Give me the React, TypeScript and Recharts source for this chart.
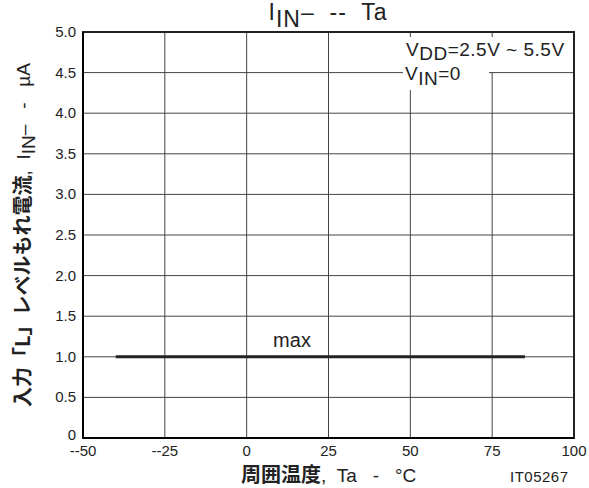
import React from "react";
import {
  LineChart,
  Line,
  XAxis,
  YAxis,
  CartesianGrid,
  ReferenceArea,
} from "recharts";

// ambient temperature (°C) and max input leakage current (µA)
const temps = [-40, 85];
const maxLeak = [1.0, 1.0];

const xTicks = [-50, -25, 0, 25, 50, 75, 100];
const yTicks = [0, 0.5, 1.0, 1.5, 2.0, 2.5, 3.0, 3.5, 4.0, 4.5, 5.0];

const data = temps.map((t, i) => ({ t, max: maxLeak[i] }));

const font = "'Liberation Sans', Arial, sans-serif";
const jpFont = "'Noto Sans CJK JP', 'Liberation Sans', sans-serif";
const ink = "#222";

const fmtX = (v: number) => (v < 0 ? "--" + Math.abs(v) : String(v));
const fmtY = (v: number) => (v === 0 ? "0" : v.toFixed(1));

const XTick = (p: any) => (
  <text
    x={p.x}
    y={p.y}
    dy={18}
    textAnchor="middle"
    fontSize={15}
    fontFamily={font}
    fill={ink}
  >
    {fmtX(p.payload.value)}
  </text>
);

const YTick = (p: any) => (
  <text
    x={p.x - 7}
    y={p.y}
    dy={p.payload.value === 0 ? 2 : 5}
    textAnchor="end"
    fontSize={15}
    fontFamily={font}
    fill={ink}
  >
    {fmtY(p.payload.value)}
  </text>
);

const pre = { whiteSpace: "pre" as const };

export default function App() {
  return (
    <div
      style={{
        position: "absolute",
        left: 0,
        top: 0,
        width: 589,
        height: 488,
        background: "#fff",
      }}
    >
      <LineChart
        width={589}
        height={488}
        data={data}
        margin={{ top: 32, right: 15, left: 0, bottom: 0 }}
      >
        <CartesianGrid stroke="#444" strokeWidth={1} />
        <XAxis
          dataKey="t"
          type="number"
          domain={[-50, 100]}
          ticks={xTicks}
          height={50}
          tickLine={false}
          tickSize={0}
          tickMargin={0}
          axisLine={{ stroke: "#000", strokeWidth: 2 }}
          tick={XTick}
          interval={0}
        />
        <YAxis
          type="number"
          domain={[0, 5]}
          ticks={yTicks}
          width={83}
          tickLine={false}
          tickSize={0}
          tickMargin={0}
          axisLine={{ stroke: "#000", strokeWidth: 2 }}
          tick={YTick}
          interval={0}
        />
        <ReferenceArea
          x1={-50}
          x2={100}
          y1={0}
          y2={5}
          fill="none"
          stroke={ink}
          strokeWidth={2}
          ifOverflow="visible"
        />
        <Line
          dataKey="max"
          stroke={ink}
          strokeWidth={3}
          dot={false}
          isAnimationActive={false}
        />
      </LineChart>
      <svg
        width={589}
        height={488}
        style={{ position: "absolute", left: 0, top: 0, pointerEvents: "none" }}
      >
        {/* title */}
        <text
          x={328}
          y={20}
          textAnchor="middle"
          fontSize={23}
          letterSpacing={1}
          fontFamily={font}
          fill={ink}
          xmlSpace="preserve"
          style={pre}
        >
          I<tspan dy={7}>IN</tspan>
          <tspan dy={-7}>{"\u2013  --  Ta"}</tspan>
        </text>

        {/* condition note, white box hides the grid behind it */}
        <rect x={403} y={37} width={167} height={35} fill="#fff" />
        <rect x={403} y={70} width={86} height={20} fill="#fff" />
        <g fontFamily={font} fill={ink} fontSize={19} letterSpacing={0.5}>
          <text x={406} y={56}>
            V<tspan dy={3.5}>DD</tspan>
            <tspan dy={-3.5}>=2.5V ~ 5.5V</tspan>
          </text>
          <text x={405} y={80}>
            V<tspan dy={5}>IN</tspan>
            <tspan dy={-5}>=0</tspan>
          </text>
        </g>

        <text
          x={292}
          y={347}
          fontSize={20}
          fontFamily={font}
          fill={ink}
          textAnchor="middle"
        >
          max
        </text>

        {/* y axis title */}
        <text
          transform="translate(30 235) rotate(-90)"
          textAnchor="middle"
          fontSize={19}
          fontFamily={font}
          fill={ink}
          xmlSpace="preserve"
          style={pre}
        >
          <tspan fontFamily={jpFont} fontWeight="bold" fontSize={20}>
            入力「L」レベルもれ電流
          </tspan>
          <tspan>{",  I"}</tspan>
          <tspan dy={5}>IN</tspan>
          <tspan dy={-5}>{"\u2013   -   \u00b5A"}</tspan>
        </text>

        {/* x axis title */}
        <text
          x={241}
          y={482}
          fontSize={19}
          fontFamily={font}
          fill={ink}
          xmlSpace="preserve"
          style={pre}
        >
          <tspan fontFamily={jpFont} fontWeight="bold" fontSize={20}>
            周囲温度
          </tspan>
          <tspan>{",  Ta   -   °C"}</tspan>
        </text>

        <text x={510} y={482} fontSize={15} letterSpacing={0.5} fontFamily={font} fill={ink}>
          IT05267
        </text>
      </svg>
    </div>
  );
}
